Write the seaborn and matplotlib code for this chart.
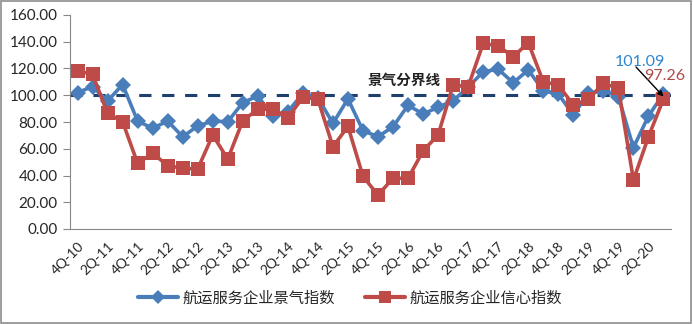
import matplotlib
matplotlib.use("Agg")
import matplotlib.pyplot as plt
import seaborn as sns
import pandas as pd
import numpy as np
from matplotlib.lines import Line2D
from matplotlib.patches import Rectangle

quarters = []
for y in range(10, 21):
    for q in range(1, 5):
        if (y == 10 and q < 4) or (y == 20 and q > 3):
            continue
        quarters.append(f"{q}Q-{y:02d}")

prosperity = [102, 106.4, 95.7, 108, 80.7, 75.3, 80.7, 69, 77, 80.7, 80.2, 94.5,
              99.4, 84.5, 87.7, 101.4, 98, 79, 97.3, 73.5, 69, 76.5, 92.5, 86,
              91, 96, 106, 117.6, 119.4, 109.4, 118.9, 103.4, 101, 85.2, 101.4, 103.4,
              98.9, 60.8, 84.5, 101.09]
confidence = [118.4, 115.6, 86.5, 80.2, 49.1, 56.6, 47.4, 45.4, 44.9, 70.3, 52.3, 81,
              89.5, 89.5, 83.2, 98.4, 97, 61.5, 76.7, 39.4, 25.3, 38.1, 37.8, 58.5,
              70.3, 107.7, 106.4, 138.8, 136.8, 128.8, 139.3, 110.1, 107.7, 92.7, 97, 108.9,
              105.2, 36.6, 69, 97.26]
series_names = ["航运服务企业景气指数", "航运服务企业信心指数"]
boundary = 100.0
boundary_label = "景气分界线"

df = pd.DataFrame({
    "idx": list(range(len(quarters))) * 2,
    "value": prosperity + confidence,
    "series": [series_names[0]] * len(quarters) + [series_names[1]] * len(quarters),
})

sns.set_theme(style="white")
plt.rcParams['font.family'] = ['Lato', 'Noto Sans CJK SC', 'DejaVu Sans']
cjk = ['Noto Sans CJK SC', 'DejaVu Sans']

blue = "#4A7EBB"
red = "#BE4B48"
navy = "#1F3F6E"

W, H = 693, 324
fig = plt.figure(figsize=(6.93, 3.24), dpi=100)
ax = fig.add_axes([70/W, 1-229/H, 601/W, 214/H])

sns.lineplot(data=df, x="idx", y="value", hue="series", style="series",
             markers={series_names[0]: "D", series_names[1]: "s"}, dashes=False,
             palette={series_names[0]: blue, series_names[1]: red},
             linewidth=2.6, markersize=8, markeredgewidth=0, ax=ax, legend=False)
for line in ax.lines:
    if matplotlib.colors.to_hex(line.get_color()) == red.lower():
        line.set_markersize(10)

ax.axhline(boundary, color=navy, linestyle=(0, (4, 3.5)), linewidth=2.2, zorder=1.5)
fig.text(404/W, 1-80/H, boundary_label, fontsize=10.5, family=cjk,
         ha="center", va="center", fontweight="bold", color="#222222")

ax.set_xlim(-0.5, len(quarters) - 0.5)
ax.set_ylim(0, 160)
ax.set_yticks(np.arange(0, 161, 20))
ax.set_yticklabels([f"{v:.2f}" for v in np.arange(0, 161, 20)], fontsize=11)
ax.set_xticks(range(0, len(quarters), 2))
ax.set_xticklabels(quarters[::2], rotation=45, ha="right", rotation_mode="anchor", fontsize=10)
ax.set_xticks(np.arange(-0.5, len(quarters), 1), minor=True)
ax.tick_params(axis="x", which="major", length=0, pad=8)
ax.tick_params(axis="x", which="minor", length=5, width=0.8, color="#888888", direction="out")
ax.tick_params(axis="y", length=5, width=0.8, color="#888888", direction="out", left=True, pad=4)
ax.set_xlabel("")
ax.set_ylabel("")
for s in ["top", "right"]:
    ax.spines[s].set_visible(False)
for s in ["left", "bottom"]:
    ax.spines[s].set_color("#888888")
    ax.spines[s].set_linewidth(0.8)

# annotations for the latest values
fig.text(640/W, 1-62/H, f"{prosperity[-1]:.2f}", color="#2E86D1", fontsize=11.5, ha="center", va="center")
fig.text(665/W, 1-76/H, f"{confidence[-1]:.2f}", color="#B04A4A", fontsize=11.5, ha="center", va="center")
ax.annotate("", xy=(len(quarters) - 1, 99), xycoords="data",
            xytext=(636, H - 67), textcoords="figure pixels",
            arrowprops=dict(arrowstyle="-|>", color="black", lw=1.0, mutation_scale=8,
                            shrinkA=0, shrinkB=0))

handles = [Line2D([], [], color=blue, marker="D", markersize=7, lw=3, markeredgewidth=0),
           Line2D([], [], color=red, marker="s", markersize=8, lw=3, markeredgewidth=0)]
fig.legend(handles, series_names, loc="center", bbox_to_anchor=(350/W, 1-298/H), ncol=2,
           frameon=False, prop={"family": cjk, "size": 11}, handlelength=2.6,
           columnspacing=2.0, handletextpad=0.3)

fig.patches.append(Rectangle((0.002, 0.003), 0.995, 0.993, transform=fig.transFigure,
                             fill=False, edgecolor="#8C8C8C", linewidth=1.2))
fig.savefig("out.png", dpi=100)
